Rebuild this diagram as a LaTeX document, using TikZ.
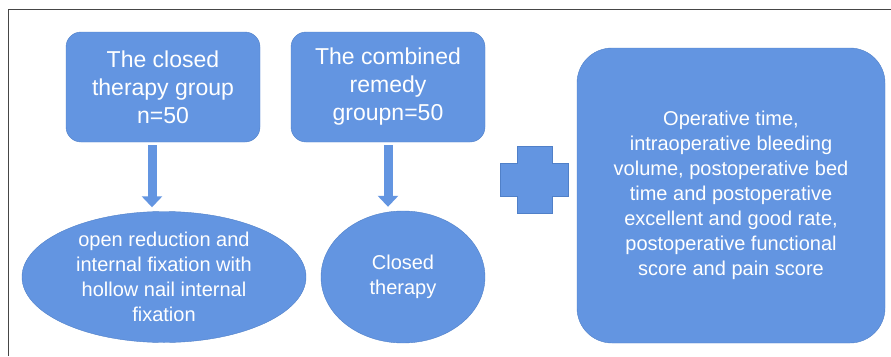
\documentclass[tikz,border=0pt]{standalone}
\usepackage{fontspec}
\setmainfont{Liberation Sans}
\usetikzlibrary{positioning,calc}
\usetikzlibrary{arrows.meta,shapes.geometric}
\definecolor{BoxBlue}{RGB}{99,149,225}
\definecolor{EdgeBlue}{RGB}{80,128,200}
\definecolor{FrameGray}{RGB}{70,70,70}
\tikzset{
  grp/.style={draw=EdgeBlue,fill=BoxBlue,rounded corners=15pt,minimum width=194pt,
    minimum height=110pt,text=white,align=center,font=\fontsize{23}{28}\selectfont},
  outc/.style={ellipse,draw=EdgeBlue,fill=BoxBlue,inner sep=0pt},
  txt/.style={text=white,align=center,font=\fontsize{20}{25}\selectfont},
  res/.style={draw=EdgeBlue,fill=BoxBlue,rounded corners=35pt,minimum width=308pt,
    minimum height=295pt,text=white,align=center,font=\fontsize{20}{25}\selectfont},
}
\tikzset{arr/.style={draw=BoxBlue,line width=9pt,shorten <=3pt,shorten >=4pt,
  -{Triangle[width=20pt,length=11pt]}}}

\begin{document}
\begin{tikzpicture}[x=1pt,y=-1pt]
\useasboundingbox (0,0) rectangle (891,356);
\draw[FrameGray,line width=1.5pt] (8.5,356) -- (8.5,9.5) -- (891,9.5);
\node[grp] (closed) at (163,87) {The closed\\therapy group\\n=50};
\node[grp] (combined) at (388,87) {The combined\\remedy\\groupn=50};
\node[outc,minimum width=284pt,minimum height=131pt,
  label={[txt]center:open reduction and\\internal fixation with\\hollow nail internal\\fixation}] (open) at (164,277) {};
\node[outc,minimum width=164pt,minimum height=132pt,
  label={[txt]center:Closed\\therapy}] (ctherapy) at (403,277) {};
\node[res] (result) at (731,195.5) {Operative time,\\intraoperative bleeding\\volume, postoperative bed\\time and postoperative\\excellent and good rate,\\postoperative functional\\score and pain score};
\draw[arr] ([xshift=-11pt]closed.south) -- ([xshift=-11pt]closed.south |- open.north);
\draw[arr] (combined.south) -- (combined.south |- ctherapy.north);
% plus sign
\fill[BoxBlue,draw=EdgeBlue,line width=0.4pt] (517,146) -- (552,146) -- (552,163) -- (568,163) -- (568,196)
  -- (552,196) -- (552,213) -- (517,213) -- (517,196) -- (500,196) -- (500,163) -- (517,163) -- cycle;
\end{tikzpicture}
\end{document}
